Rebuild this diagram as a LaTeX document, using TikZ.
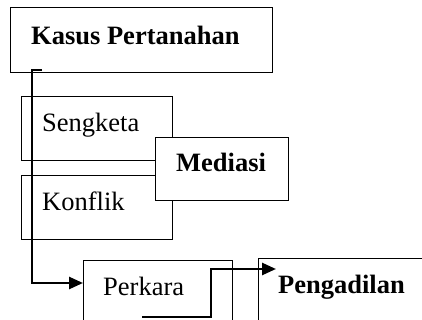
\documentclass[tikz,border=0pt]{standalone}
\usepackage{fontspec}
\setmainfont{Liberation Serif}
\usetikzlibrary{arrows.meta}
\begin{document}
\begin{tikzpicture}[x=1pt,y=-1pt,
  box/.style={draw=black,fill=white,line width=0.9pt,anchor=north west,inner sep=0pt},
  txt/.style={anchor=base west,inner sep=0pt,font=\fontsize{26.5}{31}\selectfont},
  btxt/.style={txt,font=\fontsize{26.5}{31}\selectfont\bfseries},
  conn/.style={line width=2.6pt,-{Triangle[length=14pt,width=12pt]}}]
\useasboundingbox (0,0) rectangle (422,320);
\clip (0,0) rectangle (422,320);
\node[box,minimum width=262pt,minimum height=65pt] (kasus) at (10,7) {};
\node[btxt] (kasust) at (31,45) {Kasus Pertanahan};
\node[box,minimum width=151pt,minimum height=64pt] (seng) at (21,96) {};
\node[txt] (sengt) at (42,132) {Sengketa};
\node[box,minimum width=151pt,minimum height=64pt] (konf) at (21,175) {};
\node[txt] (konft) at (42,210) {Konflik};
\node[box,minimum width=133pt,minimum height=63pt] (med) at (155,137) {};
\node[btxt] (medt) at (176,172) {Mediasi};
\node[box,minimum width=149pt,minimum height=80pt] (perk) at (83,260) {};
\node[txt] (perkt) at (103,295) {Perkara};
\node[box,minimum width=180pt,minimum height=80pt] (peng) at (258,258) {};
\node[btxt] (pengt) at (278,293) {Pengadilan};
\coordinate (s1) at (42,70);
\coordinate (s2) at (142,317);
\draw[conn] (s1) -- (32,70) -- (32,283) -- (perk.west |- 0,283);
\draw[conn] (s2) -- (211,317) -- (211,269) -- (276,269);
\end{tikzpicture}
\end{document}
